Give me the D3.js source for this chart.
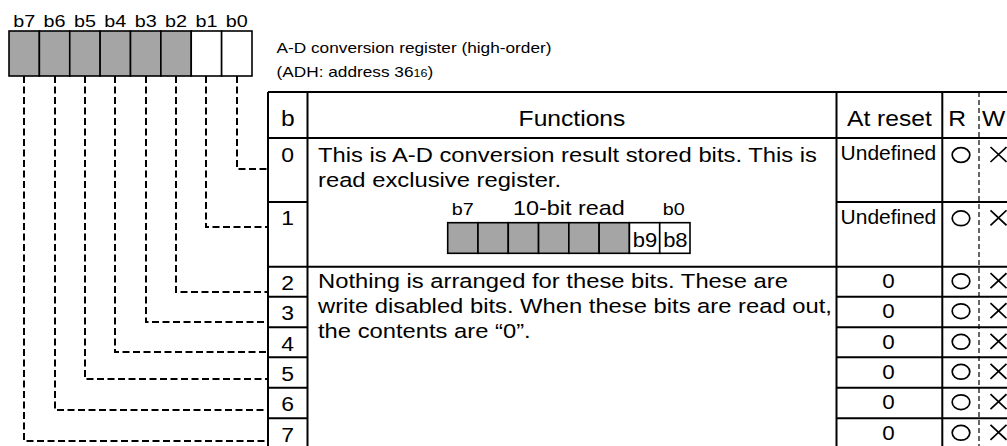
<!DOCTYPE html>
<html><head><meta charset="utf-8">
<script src="https://cdn.jsdelivr.net/npm/d3@7"></script>
<style>html,body{margin:0;padding:0;background:#fff;}svg{display:block;}</style>
</head><body>
<svg id="c" width="1007" height="446"></svg>
<script>
// ---------------- data ----------------
const bits = ["b7","b6","b5","b4","b3","b2","b1","b0"];
const bitUnused = [true,true,true,true,true,true,false,false];
const rowBits = ["0","1","2","3","4","5","6","7"];
const resetValues = ["Undefined","Undefined","0","0","0","0","0","0"];
const readable = [true,true,true,true,true,true,true,true];
const writable = [false,false,false,false,false,false,false,false];
const headers = ["b","Functions","At reset","R","W"];
const titleLine1 = "A-D conversion register (high-order)";
const titleLine2 = ["(ADH: address 36","16",")"];
const func01 = ["This is A-D conversion result stored bits. This is","read exclusive register."];
const func27 = ["Nothing is arranged for these bits. These are","write disabled bits. When these bits are read out,","the contents are \u201c0\u201d."];
const readLabel = ["b7","10-bit read","b0"];
const readCells = ["","","","","","","b9","b8"];
const readUnused = [true,true,true,true,true,true,false,false];

// ---------------- layout ----------------
const svg = d3.select("#c");
const FONT = "'Liberation Sans', Arial, Helvetica, sans-serif";
const GRAY = "#a5a5a5";
const SX = 1.16;

function txt(g, x, y, s, size, anchor, sx) {
  return g.append("text")
    .attr("transform", `translate(${x},${y}) scale(${sx||SX},1)`)
    .attr("text-anchor", anchor || "start")
    .attr("font-family", FONT).attr("font-size", size)
    .attr("fill", "#000").text(s);
}

// register
const regX = d3.scaleBand().domain(bits).range([9, 252]);
const regTop = 31, regBot = 76;
const g = svg.append("g");
g.selectAll("rect.reg").data(bits).join("rect")
  .attr("x", d => regX(d)).attr("y", regTop)
  .attr("width", regX.bandwidth()).attr("height", regBot - regTop)
  .attr("fill", (d,i) => bitUnused[i] ? GRAY : "#fff")
  .attr("stroke", "#000").attr("stroke-width", 1.6);
bits.forEach(b => txt(g, regX(b) + regX.bandwidth()/2, 26.5, b, 16.5, "middle", 1.2));

// title
txt(g, 276.5, 53.3, titleLine1, 15.2, "start", 1.135);
const t2 = txt(g, 276.5, 76.7, "", 15.2, "start", 1.135);
t2.append("tspan").text(titleLine2[0]);
t2.append("tspan").attr("font-size", 11).text(titleLine2[1]);
t2.append("tspan").text(titleLine2[2]);

// table geometry
const colX = {left:268, b:307.5, f:836.5, r:942.3, w:979, end:1020};
const headTop = 92, headBot = 138;
const rowHeights = [64, 64.7, 30, 30.6, 30, 30.4, 30.6, 30.6];
const rowTops = [];
rowHeights.reduce((acc, h, i) => { rowTops[i] = acc; return acc + h; }, headBot);
const tableBot = rowTops[7] + rowHeights[7];
const yRow = d3.scaleOrdinal().domain(rowBits).range(rowTops);

const LW = 2;
function line(x1,y1,x2,y2,w,dash){
  g.append("line").attr("x1",x1).attr("y1",y1).attr("x2",x2).attr("y2",y2)
   .attr("stroke","#000").attr("stroke-width",w||LW)
   .attr("stroke-dasharray",dash||null);
}
// outer and vertical lines
line(colX.left, headTop, colX.end, headTop);
line(colX.left, headBot, colX.end, headBot);
line(colX.left, headTop, colX.left, tableBot);
line(colX.b, headTop, colX.b, tableBot);
line(colX.f, headTop, colX.f, tableBot);
line(colX.r, headTop, colX.r, tableBot);
line(colX.w, headTop, colX.w, tableBot, 1.2, "5,3");
// row lines
rowBits.forEach((r,i) => {
  if (i === 0) return;
  const y = yRow(r);
  if (i === 2) { line(colX.left, y, colX.end, y); return; }
  line(colX.left, y, colX.b, y);
  line(colX.f, y, colX.end, y);
});

// header texts
txt(g, (colX.left+colX.b)/2, 126, headers[0], 22, "middle", 1.12);
txt(g, (colX.b+colX.f)/2, 126, headers[1], 22, "middle", 1.12);
txt(g, (colX.f+colX.r)/2, 126, headers[2], 22, "middle", 1.12);
txt(g, colX.r + 6, 126, headers[3], 22, "start", 1.12);
txt(g, colX.w + 3, 126, headers[4], 22, "start", 1.12);

// row numbers
rowBits.forEach((r,i) => {
  txt(g, (colX.left+colX.b)/2, yRow(r) + (i===0 ? 24.3 : 23.3), r, 20.5, "middle", 1.12);
});
// reset values
resetValues.forEach((v,i) => {
  const y = yRow(rowBits[i]);
  if (v === "Undefined") txt(g, (colX.f+colX.r)/2 - 1, y + 22, v, 20, "middle", 1.05);
  else txt(g, (colX.f+colX.r)/2 - 1, y + 21.6, v, 20, "middle", 1.12);
});
// R / W marks
const markOff = i => i === 0 ? 17 : (i === 1 ? 16.3 : 14.5);
readable.forEach((v,i) => {
  if (!v) return;
  g.append("ellipse").attr("cx", 961).attr("cy", yRow(rowBits[i]) + markOff(i))
   .attr("rx", 8.8).attr("ry", 7.4).attr("fill","none").attr("stroke","#000").attr("stroke-width",1.7);
});
writable.forEach((v,i) => {
  if (v) return;
  const cx = 998.5, cy = yRow(rowBits[i]) + markOff(i) - 0.5;
  g.append("path").attr("d", `M${cx-8},${cy-7.5}L${cx+8},${cy+7.5}M${cx-8},${cy+7.5}L${cx+8},${cy-7.5}`)
   .attr("stroke","#000").attr("stroke-width",1.7).attr("fill","none");
});

// function texts
func01.forEach((s,i) => txt(g, 318, 162.3 + i*24.4, s, 20.5, "start", SX));
func27.forEach((s,i) => txt(g, 318, 288.3 + i*24.8, s, 20.5, "start", SX));

// 10-bit read mini register
const rdX = d3.scaleBand().domain(d3.range(8)).range([447.7, 690]);
g.selectAll("rect.rd").data(readCells).join("rect")
  .attr("x", (d,i) => rdX(i)).attr("y", 222.7)
  .attr("width", rdX.bandwidth()).attr("height", 30.6)
  .attr("fill", (d,i) => readUnused[i] ? GRAY : "#fff")
  .attr("stroke","#000").attr("stroke-width",1.6);
readCells.forEach((s,i) => { if (s) txt(g, rdX(i) + rdX.bandwidth()/2 + 0.5, 247.3, s, 20, "middle", 1.1); });
txt(g, rdX(0) + rdX.bandwidth()/2, 215, readLabel[0], 16.5, "middle", 1.2);
txt(g, 513, 214.5, readLabel[1], 20, "start", 1.17);
txt(g, rdX(7) + rdX.bandwidth()/2 - 1, 215, readLabel[2], 16.5, "middle", 1.2);

// dashed connectors
const connOff = [31, 25.3, 25.6, 25, 24.4, 22, 22.3, 22.4];
bits.forEach((b,i) => {
  const bitNo = 7 - i;
  const x = Math.round(regX(b) + regX.bandwidth()/2);
  const y = Math.round(yRow(String(bitNo)) + connOff[bitNo]);
  g.append("path").attr("d", `M${x},${regBot}V${y}H${colX.left}`)
   .attr("fill","none").attr("stroke","#000").attr("stroke-width",2)
   .attr("stroke-dasharray","7,3.5");
});
</script>
</body></html>
